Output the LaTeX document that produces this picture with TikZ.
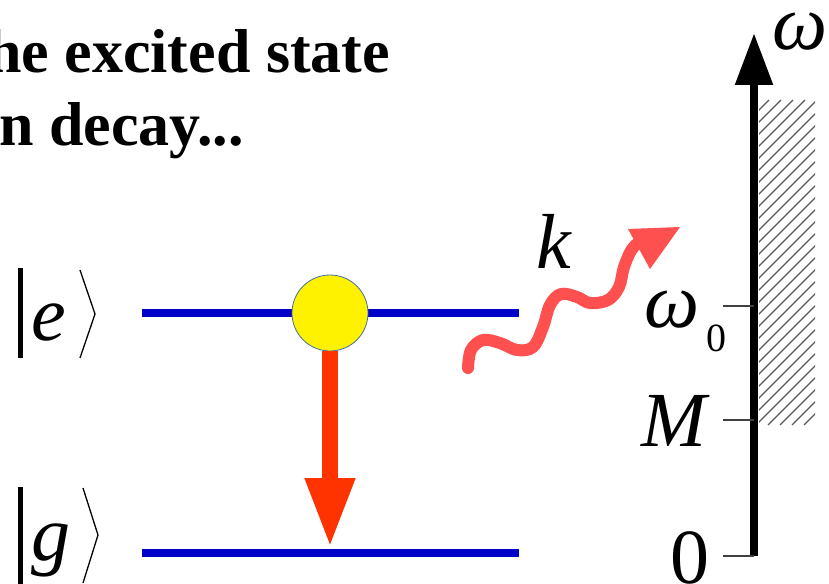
\documentclass[tikz,border=0pt]{standalone}
\usepackage{fontspec}
\setmainfont{Liberation Serif}
\usetikzlibrary{arrows.meta}
\definecolor{levelblue}{RGB}{0,0,200}
\definecolor{decayred}{RGB}{255,51,0}
\definecolor{photonred}{RGB}{255,80,80}
\definecolor{dotedge}{RGB}{70,110,160}
\tikzset{
  level/.style={draw=levelblue, line width=8pt},
  titletext/.style={anchor=base west, inner sep=0pt, font=\fontsize{62}{72}\selectfont\bfseries},
  mathlbl/.style={anchor=base west, inner sep=0pt, font=\fontsize{78}{90}\selectfont\itshape},
  numlbl/.style={anchor=base west, inner sep=0pt, font=\fontsize{78}{90}\selectfont},
  tick/.style={draw=black!75, line width=1.2pt},
  ketbar/.style={line width=5pt},
  ketangle/.style={line width=1.3pt},
}
\begin{document}
\begin{tikzpicture}[x=1pt,y=-1pt]
\useasboundingbox (0,0) rectangle (829,583);
\clip (0,0) rectangle (829,583);

% title
\node[titletext] (t1) at (-13,73) {he excited state};
\node[titletext] (t2) at (-1,145) {n decay...};

% kets
\draw[ketbar] (20,268) -- (20,358);
\node[mathlbl] (e) at (31,340) {e};
\draw[ketangle] (80,270) -- (95,314) -- (80,358);
\draw[ketbar] (20,487) -- (20,590);
\node[mathlbl] (g) at (31,560) {g};
\draw[ketangle] (83,488) -- (98,535) -- (83,583);

% levels
\coordinate (eL) at (142,313);
\coordinate (eR) at (519,313);
\coordinate (gL) at (142,553);
\coordinate (gR) at (519,553);
\draw[level] (eL) -- (eR);
\draw[level] (gL) -- (gR);

% electron dot
\node[circle, minimum size=76pt, inner sep=0pt, fill=yellow, draw=dotedge, line width=0.8pt] (dot) at (330,313) {};

% decay arrow
\coordinate (gtip) at (330,548);
\draw[decayred, line width=16pt, -{Triangle[length=70pt,width=46pt]}] (dot.south) -- (gtip);

% photon
\draw[photonred, line width=12pt, line cap=round, line join=round]
  plot[smooth, tension=0.6] coordinates {(468,368) (471,350) (483,340) (500,343) (517,350) (533,347) (543,327) (550,305) (561,294) (577,297) (590,303) (608,300) (619,287) (624,267) (632,249) (642,240)};
\coordinate (ph1) at (680,227);
\coordinate (ph2) at (628,229);
\coordinate (ph3) at (650,269);
\fill[photonred] (ph1) -- (ph2) -- (ph3) -- cycle;
\node[mathlbl] (k) at (536,268) {k};

% frequency axis
\coordinate (a0) at (754,556);
\coordinate (atop) at (754,33);
\begin{scope}
  \clip (759,100) rectangle (815,425);
  \foreach \x in {420,432,...,820} {
    \draw[black!65, line width=1.1pt] (\x,425) -- (\x+325,100);
  }
\end{scope}
\draw[line width=8.5pt, -{Triangle[length=52pt,width=36pt]}] (a0) -- (atop);
\coordinate (tw0) at (723,306);
\coordinate (tM) at (723,420);
\coordinate (tz) at (723,556);
\draw[tick] (tw0) -- (tw0 -| a0);
\draw[tick] (tM) -- (tM -| a0);
\draw[tick] (tz) -- (a0);

\node[mathlbl] (w) at (772,50) {ω};
\node[mathlbl] (w0) at (644,327) {ω};
\node[anchor=base west, inner sep=0pt, font=\fontsize{40}{48}\selectfont] (w0sub) at (706,351) {0};
\node[mathlbl] (M) at (641,446) {M};
\node[numlbl] (zero) at (670,583) {0};
\end{tikzpicture}
\end{document}
